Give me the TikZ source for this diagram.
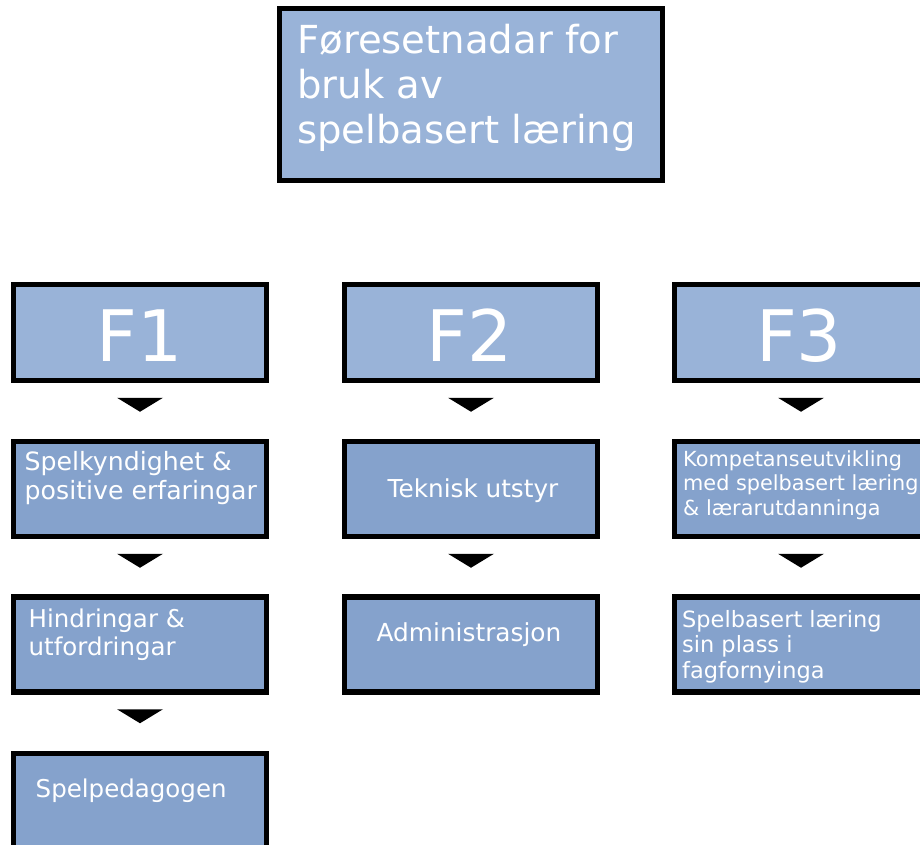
\documentclass[tikz,border=0pt]{standalone}
\usepackage{fontspec}
\setmainfont{DejaVu Sans}
\usetikzlibrary{calc}
\definecolor{boxlight}{HTML}{99B3D8}
\definecolor{boxdark}{HTML}{85A2CC}
\tikzset{
  boxbase/.style={draw=black, line width=5.5pt, rectangle, inner sep=0pt, minimum width=253pt},
  headbox/.style={boxbase, fill=boxlight, minimum height=96pt},
  itembox/.style={boxbase, fill=boxdark, minimum height=95pt},
  lbl/.style={text=white, inner sep=0pt, align=left},
  downtri/.style={fill=black}
}
\begin{document}
\begin{tikzpicture}[x=1pt,y=-1pt]
\useasboundingbox (0,0) rectangle (920,845);
\clip (0,0) rectangle (920,845);
% title box
\node[boxbase, fill=boxlight, minimum width=383pt, minimum height=172pt] (title) at (471,94.5) {};
\node[lbl, anchor=north west, font=\fontsize{38.6}{45}\selectfont] (titletxt) at (297,23.7) {Føresetnadar for\\bruk av\\spelbasert læring};
% column heads
\node[headbox] (f1) at (140,332.5) {};
\node[headbox] (f2) at (471,332.5) {};
\node[headbox] (f3) at (801,332.5) {};
\node[lbl, anchor=base, font=\fontsize{71}{80}\selectfont] (f1t) at (139.5,361) {F1};
\node[lbl, anchor=base, font=\fontsize{71}{80}\selectfont] (f2t) at (469.5,361) {F2};
\node[lbl, anchor=base, font=\fontsize{71}{80}\selectfont] (f3t) at (799,361) {F3};
% column 1
\node[itembox] (a1) at (140,489) {};
\node[itembox] (a2) at (140,644.5) {};
\node[itembox] (a3) at (140,801) {};
\node[lbl, anchor=north west, font=\fontsize{25.2}{29}\selectfont] (a1t) at (24.5,450.8) {Spelkyndighet \&\\positive erfaringar};
\node[lbl, anchor=north west, font=\fontsize{24.5}{28}\selectfont] (a2t) at (28.5,608.4) {Hindringar \&\\utfordringar};
\node[lbl, anchor=north west, font=\fontsize{24.5}{30}\selectfont] (a3t) at (35.5,778.4) {Spelpedagogen};
% column 2
\node[itembox] (b1) at (471,489) {};
\node[itembox] (b2) at (471,644.5) {};
\node[lbl, anchor=base, font=\fontsize{24.7}{29}\selectfont] (b1t) at (473,497) {Teknisk utstyr};
\node[lbl, anchor=base, font=\fontsize{24.8}{29}\selectfont] (b2t) at (469,641) {Administrasjon};
% column 3
\node[itembox] (c1) at (801,489) {};
\node[itembox] (c2) at (801,644.5) {};
\node[lbl, anchor=north west, font=\fontsize{20.8}{24.5}\selectfont] (c1t) at (683,450.2) {Kompetanseutvikling\\med spelbasert læring\\\& lærarutdanninga};
\node[lbl, anchor=north west, font=\fontsize{22.45}{25.5}\selectfont] (c2t) at (682,609.9) {Spelbasert læring\\sin plass i\\fagfornyinga};
% down triangles
\foreach \n in {f1,a1,a2,f2,b1,f3,c1}{
  \fill[downtri] ($(\n.south)+(-23,14.5)$) -- ++(46,0) -- ++(-23,14) -- cycle;
}
\end{tikzpicture}
\end{document}
